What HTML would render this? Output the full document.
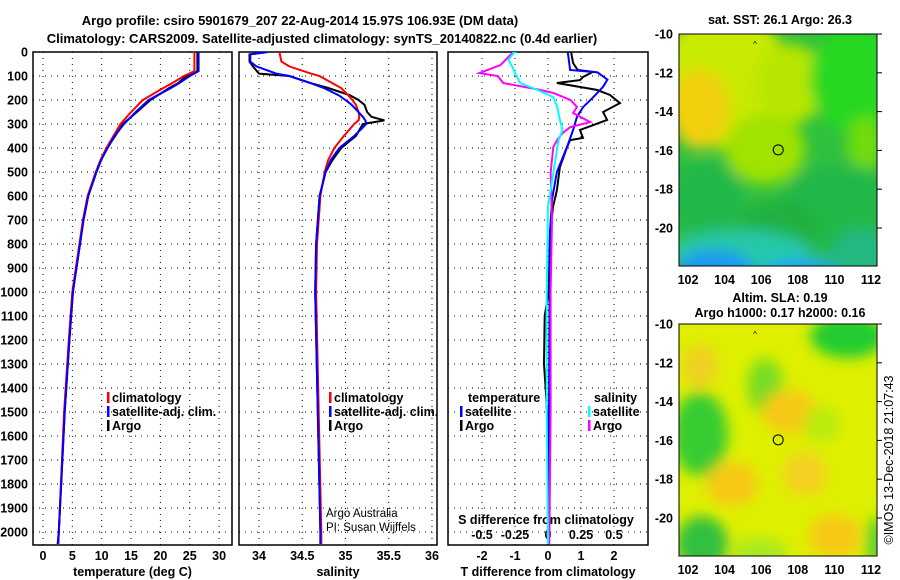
<!DOCTYPE html>
<html><head><meta charset="utf-8">
<style>
html,body{margin:0;padding:0;background:#fff;}
svg{display:block;font-family:"Liberation Sans",sans-serif;}
.t{font-weight:bold;font-size:13px;}
.tk{font-weight:bold;font-size:12.5px;}
</style></head>
<body>
<svg id="chart" width="900" height="580" viewBox="0 0 900 580" xmlns="http://www.w3.org/2000/svg">
<defs>
<filter id="bl" x="-50%" y="-50%" width="200%" height="200%"><feGaussianBlur stdDeviation="7"/></filter>
<clipPath id="c1"><rect x="679" y="34" width="198" height="232"/></clipPath>
<clipPath id="c2"><rect x="679" y="324" width="198" height="232"/></clipPath>
<clipPath id="p1"><rect x="33" y="52" width="199" height="493"/></clipPath>
<clipPath id="p2"><rect x="239" y="52" width="198" height="493"/></clipPath>
<clipPath id="p3"><rect x="448" y="52" width="200" height="493"/></clipPath>
</defs>
<text class="t" x="300" y="25" text-anchor="middle" font-size="14">Argo profile: csiro 5901679_207 22-Aug-2014 15.97S 106.93E (DM data)</text>
<text class="t" x="322" y="43" text-anchor="middle" font-size="14">Climatology: CARS2009. Satellite-adjusted climatology: synTS_20140822.nc (0.4d earlier)</text>
<g id="panels"></g>
<g id="maps"></g>
<text x="893" y="460" font-size="12.5" text-anchor="middle" transform="rotate(-90 893 460)">©IMOS 13-Dec-2018 21:07:43</text>
</svg>
<script>
// ---------- data ----------
const depthTicks=[0,100,200,300,400,500,600,700,800,900,1000,1100,1200,1300,1400,1500,1600,1700,1800,1900,2000];
const tempTicks=[0,5,10,15,20,25,30];
const salTicks=[34,34.5,35,35.5,36];
const tdiffTicks=[-2,-1,0,1,2];
const sdiffTicks=[-0.5,-0.25,0,0.25,0.5];

const tDepth=[0,80,100,130,150,200,250,300,350,400,450,500,600,700,800,1000,1200,1500,2000,2050];
const tClim=[25.8,25.8,24.0,22.0,20.5,17.0,15.0,13.2,12.0,10.8,9.8,9.0,7.6,6.8,6.2,5.0,4.4,3.6,2.7,2.5];
const tSat=[26.5,26.5,25.0,23.2,21.8,18.0,15.8,13.8,12.2,11.0,9.9,9.1,7.7,6.9,6.3,5.1,4.5,3.7,2.7,2.5];
const tArgo=[26.3,26.3,24.4,23.0,21.5,18.3,16.0,13.6,12.3,10.9,9.9,9.1,7.7,6.9,6.3,5.1,4.5,3.7,2.7,2.6];

const sDepth=[0,10,40,60,90,100,130,150,180,200,220,250,270,285,300,350,400,450,500,600,800,1000,1500,2000,2050];
const sClim=[34.24,34.24,34.26,34.35,34.6,34.7,34.85,34.95,35.03,35.08,35.12,35.15,35.16,35.15,35.1,34.98,34.87,34.8,34.76,34.71,34.67,34.66,34.69,34.72,34.72];
const sSat=[34.1,33.9,33.9,33.97,34.2,34.35,34.6,34.75,34.92,35.0,35.07,35.15,35.2,35.23,35.24,35.1,34.93,34.83,34.77,34.7,34.66,34.65,34.68,34.71,34.71];
const sArgo=[34.1,33.89,33.89,33.93,34.0,34.35,34.6,34.8,35.05,35.15,35.22,35.25,35.3,35.45,35.2,35.12,34.95,34.85,34.77,34.7,34.66,34.65,34.68,34.71,34.71];

const dtSatDepth=[0,75,85,115,145,190,230,270,325,395,500,615,750,1000,1500,2050];
const dtSat=[0.6,0.67,1.5,1.8,1.67,1.36,1.06,0.88,0.76,0.58,0.27,0.12,0.06,0.05,0.03,0];
const dtArgoDepth=[0,46,75,83,104,117,129,158,179,213,250,283,325,358,367,396,479,575,646,754,1000,1100,1300,1450,1600,2050];
const dtArgo=[0.7,0.76,0.9,1.36,1.06,0.97,0.27,1.48,1.88,2.18,1.67,1.79,0.97,1.06,0.67,0.58,0.36,0.27,0.15,0.06,0.02,-0.1,-0.12,-0.05,0,0];
const dsArgoDepth=[0,4,54,88,100,129,158,171,200,229,254,292,313,338,367,396,504,700,1000,1500,2050];
const dsArgo=[-0.26,-0.27,-0.36,-0.52,-0.38,-0.34,-0.06,0.04,0.17,0.22,0.19,0.32,0.17,0.11,0.07,0.04,0.02,0.03,0.02,0.02,0.01];
const dsSatDepth=[0,4,33,63,88,129,158,188,229,283,325,367,504,646,1000,1500,2050];
const dsSat=[-0.24,-0.26,-0.3,-0.27,-0.25,-0.21,-0.08,0.04,0.07,0.09,0.11,0.08,0.04,0,-0.01,-0.01,0];

// ---------- helpers ----------
const NS='http://www.w3.org/2000/svg';
const G=document.getElementById('panels');
function mk(tag,parent){const e=document.createElementNS(NS,tag);parent.appendChild(e);return e;}
const yD=d=>52+d*0.24;
const panels=[
 {x0:33,x1:232,sx:v=>43+v*5.87,ticks:tempTicks,lab:'temperature (deg C)',clip:'p1'},
 {x0:239,x1:437,sx:v=>259+(v-34)*86.5,ticks:salTicks,lab:'salinity',clip:'p2'},
 {x0:448,x1:648,sx:v=>548+v*33,ticks:tdiffTicks,lab:'T difference from climatology',clip:'p3'}
];
const sxS=v=>548+v*132;

panels.forEach((p,i)=>{
  const g=mk('g',G);
  
  
  depthTicks.forEach(d=>{
    const l=mk('line',g);
    
    
    l.setAttribute('x1',p.x0);l.setAttribute('x2',p.x1);l.setAttribute('y1',yD(d));l.setAttribute('y2',yD(d));
    l.setAttribute('stroke','#000');l.setAttribute('stroke-dasharray','1 5');
  });
  p.ticks.forEach(v=>{
    const x=p.sx(v);
    const l=mk('line',g);
    
    
    l.setAttribute('x1',x);l.setAttribute('x2',x);l.setAttribute('y1',52);l.setAttribute('y2',545);
    l.setAttribute('stroke','#000');l.setAttribute('stroke-dasharray','1 5');
    const t=mk('text',g);
    
    
    t.setAttribute('class','tk');t.setAttribute('x',x);t.setAttribute('y',560);t.setAttribute('text-anchor','middle');
    t.textContent=String(v);
  });
  const r=mk('rect',g);
  
  
  r.setAttribute('x',p.x0);r.setAttribute('y',52);r.setAttribute('width',p.x1-p.x0);r.setAttribute('height',493);
  r.setAttribute('fill','none');r.setAttribute('stroke','#000');r.setAttribute('stroke-width','1.5');
  const xl=mk('text',g);
  
  
  xl.setAttribute('class','tk');xl.setAttribute('x',(p.x0+p.x1)/2);xl.setAttribute('y',576);xl.setAttribute('text-anchor','middle');
  xl.textContent=p.lab;
});
depthTicks.forEach(d=>{
  const t=mk('text',G);
  
  
  t.setAttribute('class','tk');t.setAttribute('x',28);t.setAttribute('y',yD(d)+4.5);t.setAttribute('text-anchor','end');
  t.textContent=String(d);
});
sdiffTicks.forEach(v=>{
  const t=mk('text',G);
  
  
  t.setAttribute('class','tk');t.setAttribute('x',sxS(v));t.setAttribute('y',539);t.setAttribute('text-anchor','middle');
  t.textContent=String(v);
});
const sdt=mk('text',G);


sdt.setAttribute('class','tk');sdt.setAttribute('x',546);sdt.setAttribute('y',524);sdt.setAttribute('text-anchor','middle');
sdt.textContent='S difference from climatology';

function line(depths,vals,sx,color,name,clip,w){
  const pl=mk('polyline',G);
  
  
  pl.setAttribute('points',depths.map((d,i)=>sx(vals[i]).toFixed(1)+','+yD(d).toFixed(1)).join(' '));
  pl.setAttribute('fill','none');pl.setAttribute('stroke',color);pl.setAttribute('stroke-width',w||2);
  pl.setAttribute('clip-path','url(#'+clip+')');
}
line(tDepth,tArgo,panels[0].sx,'#000','temp-argo-line','p1');
line(tDepth,tClim,panels[0].sx,'#f00','temp-climatology-line','p1');
line(tDepth,tSat,panels[0].sx,'#00f','temp-satellite-line','p1');
line(sDepth,sArgo,panels[1].sx,'#000','sal-argo-line','p2');
line(sDepth,sClim,panels[1].sx,'#f00','sal-climatology-line','p2');
line(sDepth,sSat,panels[1].sx,'#00f','sal-satellite-line','p2');
line(dtArgoDepth,dtArgo,panels[2].sx,'#000','tdiff-argo-line','p3');
line(dtSatDepth,dtSat,panels[2].sx,'#00f','tdiff-satellite-line','p3');
line(dsArgoDepth,dsArgo,sxS,'#f0f','sdiff-argo-line','p3');
line(dsSatDepth,dsSat,sxS,'#0ff','sdiff-satellite-line','p3');

function legend(x,y,color,label,name,headerOnly){
  if(!headerOnly){
    const r=mk('rect',G);
    
    
    r.setAttribute('x',x);r.setAttribute('y',y-10);r.setAttribute('width',2.5);r.setAttribute('height',11);r.setAttribute('fill',color);
  }
  const t=mk('text',G);
  
  
  t.setAttribute('class','tk');t.setAttribute('x',headerOnly?x:x+5);t.setAttribute('y',y);
  t.textContent=label;
}
legend(107,402,'#f00','climatology','legend-climatology');
legend(107,416,'#00f','satellite-adj. clim.','legend-satellite');
legend(107,430,'#000','Argo','legend-argo');
legend(329,402,'#f00','climatology','legend-climatology-2');
legend(329,416,'#00f','satellite-adj. clim.','legend-satellite-2');
legend(329,430,'#000','Argo','legend-argo-2');
legend(468,402,'','temperature','legend-temperature-header',true);
legend(460,416,'#00f','satellite','legend-t-satellite');
legend(460,430,'#000','Argo','legend-t-argo');
legend(594,402,'','salinity','legend-salinity-header',true);
legend(588,416,'#0ff','satellite','legend-s-satellite');
legend(588,430,'#f0f','Argo','legend-s-argo');
const a1=mk('text',G);


a1.setAttribute('x',326);a1.setAttribute('y',517);a1.setAttribute('font-size','11.5');a1.textContent='Argo Australia';
const a2=mk('text',G);


a2.setAttribute('x',326);a2.setAttribute('y',531);a2.setAttribute('font-size','11.5');a2.textContent='PI: Susan Wijffels';

// ---------- maps ----------
const M=document.getElementById('maps');
const lonTicks=[102,104,106,108,110,112];
const latTicks=[-10,-12,-14,-16,-18,-20];
const lx=lon=>688+(lon-102)*18.3;
function map(top,clip,blobs,base,titles,name){
  const g=mk('g',M);
  
  
  const ly=lat=>top+(-10-lat)*19.4;
  const inner=mk('g',g);inner.setAttribute('clip-path','url(#'+clip+')');
  const b=mk('rect',inner);
  
  
  b.setAttribute('x',679);b.setAttribute('y',top);b.setAttribute('width',198);b.setAttribute('height',232);b.setAttribute('fill',base);
  const bg=mk('g',inner);bg.setAttribute('filter','url(#bl)');
  blobs.forEach(o=>{
    const e=mk('ellipse',bg);
    
    
    e.setAttribute('cx',o[0]);e.setAttribute('cy',top+o[1]);e.setAttribute('rx',o[2]);e.setAttribute('ry',o[3]);e.setAttribute('fill',o[4]);
  });
  const fr=mk('rect',g);
  
  
  fr.setAttribute('x',679);fr.setAttribute('y',top);fr.setAttribute('width',198);fr.setAttribute('height',232);fr.setAttribute('fill','none');fr.setAttribute('stroke','#000');
  lonTicks.forEach(v=>{
    const t=mk('text',g);
    
    
    t.setAttribute('class','tk');t.setAttribute('x',lx(v));t.setAttribute('y',top+250);t.setAttribute('text-anchor','middle');t.textContent=String(v);
  });
  latTicks.forEach(v=>{
    const t=mk('text',g);
    
    
    t.setAttribute('class','tk');t.setAttribute('x',673);t.setAttribute('y',ly(v)+4.5);t.setAttribute('text-anchor','end');t.textContent=String(v);
    const k=mk('line',g);
    
    
    k.setAttribute('x1',877);k.setAttribute('x2',882);k.setAttribute('y1',ly(v));k.setAttribute('y2',ly(v));k.setAttribute('stroke','#000');
  });
  const c=mk('circle',g);
  
  
  c.setAttribute('cx',lx(106.93));c.setAttribute('cy',ly(-15.97));c.setAttribute('r',5);c.setAttribute('fill','none');c.setAttribute('stroke','#000');
  const tr=mk('text',g);
  
  
  tr.setAttribute('x',755);tr.setAttribute('y',top+13);tr.setAttribute('font-size','8');tr.setAttribute('text-anchor','middle');tr.textContent='^';
  titles.forEach((s,i)=>{
    const t=mk('text',g);
    
    
    t.setAttribute('class','tk');t.setAttribute('x',780);t.setAttribute('y',s[1]);t.setAttribute('text-anchor','middle');t.textContent=s[0];
  });
}
map(34,'c1',[
 [725,45,65,70,'#c8ea00'],[790,50,35,40,'#b8e600'],[700,75,30,40,'#f0d010'],[765,115,40,35,'#a0e200'],
 [855,45,45,55,'#28d820'],[865,110,18,28,'#70dc10'],
 [705,165,40,38,'#22b848'],[840,175,60,45,'#22b848'],[780,190,40,25,'#22b040'],
 [740,218,70,22,'#28c8a8'],[715,238,40,22,'#1e98f0'],[805,242,45,18,'#20a8f0'],[860,225,30,30,'#20b880']
],'#30c040',[['sat. SST: 26.1 Argo: 26.3',24]],'sst-map');
map(324,'c2',[
 [700,110,28,42,'#38cc30'],[702,220,26,28,'#30c040'],[848,12,38,22,'#20cc30'],[765,62,18,28,'#78dc20'],
 [700,42,18,22,'#f0d020'],[790,88,28,22,'#f8c818'],[732,160,26,22,'#f8c818'],[835,212,26,22,'#f8c818'],[805,150,22,22,'#f4d020'],
 [822,100,18,18,'#b8ec10'],[760,228,28,14,'#a8e820'],[875,220,8,28,'#48cc30']
],'#def000',[['Altim. SLA: 0.19',302],['Argo h1000: 0.17 h2000: 0.16',317]],'sla-map');
</script>
</body></html>
